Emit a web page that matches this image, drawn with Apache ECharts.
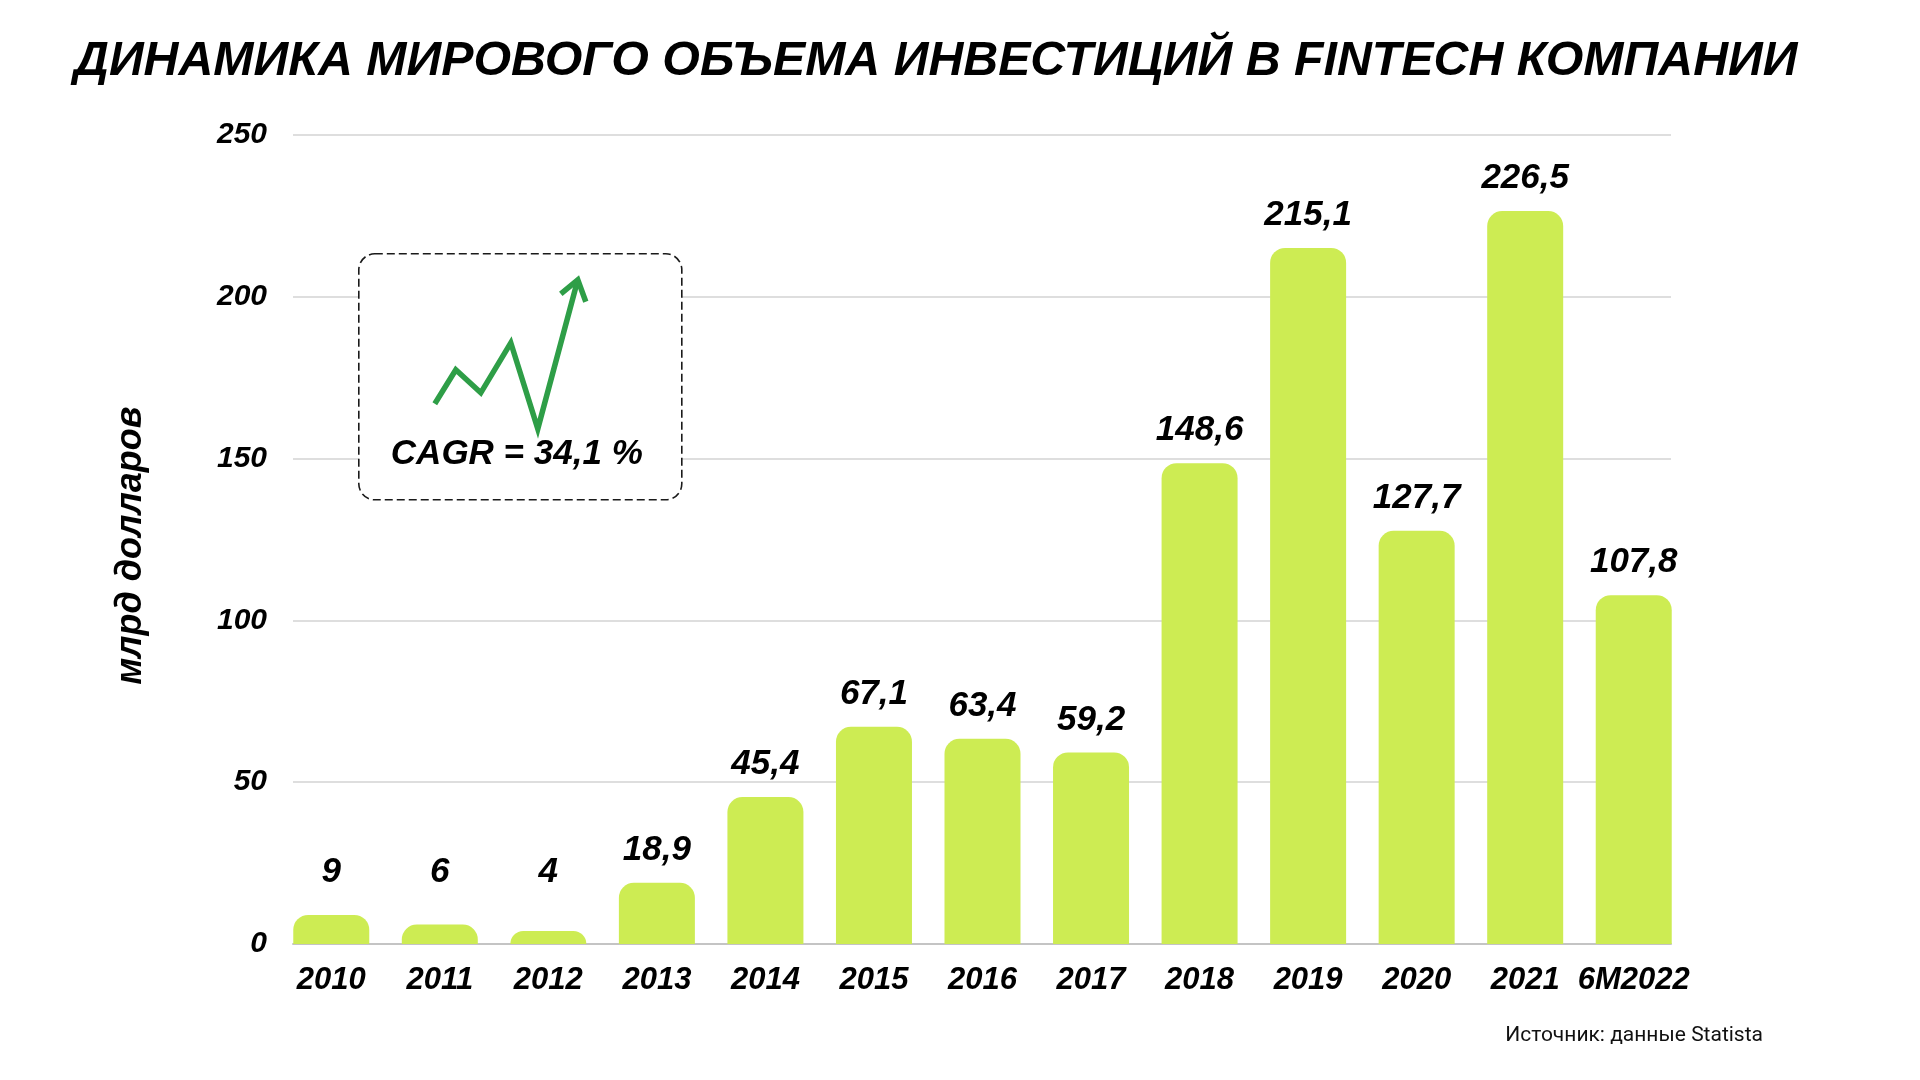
<!DOCTYPE html>
<html>
<head>
<meta charset="utf-8">
<style>
  html, body { margin: 0; padding: 0; background: #ffffff; }
  #chart { width: 1920px; height: 1080px; }
</style>
<script src="https://cdn.jsdelivr.net/npm/echarts@6/dist/echarts.min.js"></script>
</head>
<body>
<div id="chart"></div>
<script>
// данные графика
const years = ['2010', '2011', '2012', '2013', '2014', '2015', '2016', '2017', '2018', '2019', '2020', '2021', '6M2022'];
const investments = [9, 6, 4, 18.9, 45.4, 67.1, 63.4, 59.2, 148.6, 215.1, 127.7, 226.5, 107.8];
const yTicks = [0, 50, 100, 150, 200, 250];

const titleText = 'ДИНАМИКА МИРОВОГО ОБЪЕМА ИНВЕСТИЦИЙ В FINTECH КОМПАНИИ';
const axisName = 'млрд долларов';
const cagrText = 'CAGR = 34,1 %';
const sourceText = 'Источник: данные Statista';

const font = '"Liberation Sans", Arial, sans-serif';
const barColor = '#cdec53';
const arrowColor = '#2e9e47';
// подписи маленьких столбцов не опускаются ниже этой линии
const labelFloorY = 872;

const chart = echarts.init(document.getElementById('chart'));

const option = {
  backgroundColor: '#ffffff',
  animation: false,
  grid: [
    // сетка с осью Y и линиями
    { left: 293, right: 249, top: 135, bottom: 136 },
    // сетка для столбцов (чтобы крайние столбцы упирались в края линий)
    { left: 277, right: 232, top: 135, bottom: 136 }
  ],
  xAxis: [
    {
      gridIndex: 0,
      type: 'category',
      data: years,
      axisLabel: { show: false },
      axisTick: { show: false },
      axisLine: { show: true, lineStyle: { color: '#c4c4c4', width: 2 } }
    },
    {
      gridIndex: 1,
      type: 'category',
      data: years,
      axisLine: { show: false },
      axisTick: { show: false },
      axisLabel: {
        interval: 0,
        margin: 21,
        color: '#000',
        fontFamily: font,
        fontWeight: 'bold',
        fontStyle: 'italic',
        fontSize: 31
      }
    }
  ],
  yAxis: [
    {
      gridIndex: 0,
      type: 'value',
      min: yTicks[0],
      max: yTicks[yTicks.length - 1],
      interval: 50,
      name: axisName,
      nameLocation: 'middle',
      nameRotate: 90,
      nameGap: 144,
      nameTextStyle: {
        color: '#000',
        fontFamily: font,
        fontWeight: 'bold',
        fontStyle: 'italic',
        fontSize: 36,
        padding: [0, 12, 0, 0]
      },
      axisLine: { show: false },
      axisTick: { show: false },
      axisLabel: {
        margin: 26,
        color: '#000',
        fontFamily: font,
        fontWeight: 'bold',
        fontStyle: 'italic',
        fontSize: 30
      },
      splitLine: { lineStyle: { color: '#dedede', width: 2 } }
    },
    {
      gridIndex: 1,
      type: 'value',
      min: yTicks[0],
      max: yTicks[yTicks.length - 1],
      show: false,
      splitLine: { show: false }
    }
  ],
  series: [
    {
      type: 'bar',
      xAxisIndex: 1,
      yAxisIndex: 1,
      data: investments,
      barWidth: 76,
      itemStyle: { color: barColor, borderRadius: [15, 15, 0, 0] },
      label: {
        show: true,
        position: 'top',
        distance: 15,
        color: '#000',
        fontFamily: font,
        fontWeight: 'bold',
        fontStyle: 'italic',
        fontSize: 35,
        formatter: p => String(p.value).replace('.', ',')
      },
      labelLayout: p => {
        const cy = p.labelRect.y + p.labelRect.height / 2;
        return { dy: Math.min(0, labelFloorY - cy) };
      }
    }
  ],
  graphic: [
    {
      type: 'text',
      left: 74,
      top: 38,
      style: {
        text: titleText,
        fill: '#000',
        font: 'italic bold 48.3px ' + font
      }
    },
    {
      type: 'group',
      left: 358,
      top: 253,
      z: 100,
      children: [
        {
          type: 'rect',
          z: 100,
          shape: { x: 0, y: 0, width: 323, height: 246, r: 16 },
          style: { fill: '#fff', stroke: '#1a1a1a', lineWidth: 1.6, lineDash: [8, 4] }
        },
        {
          type: 'polyline',
          z: 101,
          shape: { points: [[76, 150], [97, 116], [122, 139], [152, 89], [179, 175], [219, 26]] },
          style: { stroke: arrowColor, lineWidth: 5.5, fill: null, lineJoin: 'miter' }
        },
        {
          type: 'polyline',
          z: 101,
          shape: { points: [[202, 40], [219, 26], [227, 48]] },
          style: { stroke: arrowColor, lineWidth: 5.5, fill: null }
        },
        {
          type: 'text',
          z: 102,
          x: 158,
          y: 201,
          style: {
            text: cagrText,
            fill: '#000',
            font: 'italic bold 35px ' + font,
            align: 'center',
            verticalAlign: 'middle'
          }
        }
      ]
    },
    {
      type: 'text',
      right: 157,
      top: 1025,
      style: {
        text: sourceText,
        fill: '#111',
        font: '21px Roboto, "Noto Sans", sans-serif'
      }
    }
  ]
};

chart.setOption(option);
</script>
</body>
</html>
